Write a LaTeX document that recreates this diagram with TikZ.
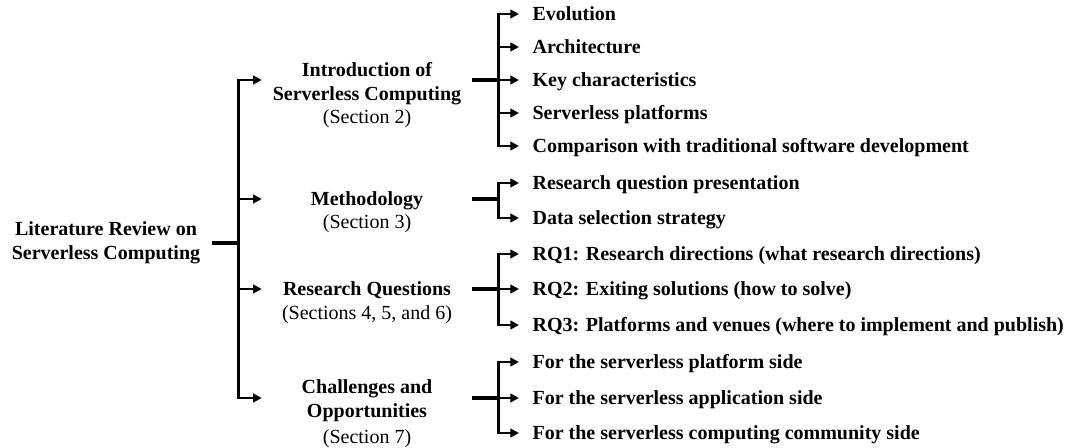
\documentclass[tikz,border=0pt]{standalone}
\usepackage{fontspec}
\setmainfont{Liberation Serif}
\usetikzlibrary{arrows.meta, positioning, calc}
\newcommand{\diagfont}{\fontsize{15}{18}\selectfont}
\tikzstyle{root} = [minimum width=159pt, align=center, inner sep=0pt, font=\diagfont\bfseries]
\tikzstyle{topic} = [minimum width=157.5pt, align=center, inner sep=0pt, font=\diagfont\bfseries]
\tikzstyle{topicline} = [topic, text height=1.05em, text depth=0em]
\tikzstyle{secnote} = [inner sep=0pt, text height=1.05em, text depth=0em, font=\diagfont]
\tikzstyle{leaf} = [anchor=west, inner xsep=10pt, inner ysep=0pt, text height=1.05em, text depth=0em, font=\diagfont\bfseries]
\tikzstyle{stub} = [line width=3pt]
\tikzstyle{branch} = [line width=2pt, -{Triangle[length=6.5pt,width=6.5pt]}]

\begin{document}
\begin{tikzpicture}[x=0.75pt, y=-0.75pt]
			\useasboundingbox (0,0) rectangle (1072,448);

			\node (root) [root] at (106,243) {Literature Review on\\Serverless Computing};

			\node (intro) [topic] at (367,84) {Introduction of\\Serverless Computing};
			\node (introsec) [secnote] at (367,117) {(Section 2)};
			\node (meth) [topicline] at (367,199) {Methodology};
			\node (methsec) [secnote] at (367,222) {(Section 3)};
			\node (rq) [topicline] at (367,289) {Research Questions};
			\node (rqsec) [secnote] at (367,313) {(Sections 4, 5, and 6)};
			\node (chal) [topic] at (367,401) {Challenges and\\Opportunities};
			\node (chalsec) [secnote] at (367,437) {(Section 7)};

			\node (evo) [leaf] at (519,14) {Evolution};
			\node (arch) [leaf] at (519,47) {Architecture};
			\node (keyc) [leaf] at (519,80) {Key characteristics};
			\node (plat) [leaf] at (519,113) {Serverless platforms};
			\node (comp) [leaf] at (519,146) {Comparison with traditional software development};

			\node (rqpres) [leaf] at (519,183) {Research question presentation};
			\node (datasel) [leaf] at (519,218) {Data selection strategy};

			\node (rqone) [leaf] at (519,254) {RQ1: Research directions (what research directions)};
			\node (rqtwo) [leaf] at (519,289) {RQ2: Exiting solutions (how to solve)};
			\node (rqthree) [leaf] at (519,325) {RQ3: Platforms and venues (where to implement and publish)};

			\node (platside) [leaf] at (519,362) {For the serverless platform side};
			\node (appside) [leaf] at (519,398) {For the serverless application side};
			\node (commside) [leaf] at (519,433) {For the serverless computing community side};

			% main trunk
			\coordinate (trunk) at ([xshift=19.5pt]root.east);
			\draw[stub] (root.east) -- (trunk);
			\draw[branch] (trunk) |- ([yshift=3pt]intro.west);
			\draw[branch] (trunk) |- (meth);
			\draw[branch] (trunk) |- (rq);
			\draw[branch] (trunk) |- ([yshift=2.25pt]chal.west);

			% sub brackets
			\coordinate (introj) at ([xshift=19.5pt,yshift=3pt]intro.east);
			\draw[stub] ([yshift=3pt]intro.east) -- (introj);
			\draw[branch] (introj) |- (evo);
			\draw[branch] (introj) |- (arch);
			\draw[branch] (introj) |- (keyc);
			\draw[branch] (introj) |- (plat);
			\draw[branch] (introj) |- (comp);

			\coordinate (methj) at ([xshift=19.5pt]meth.east);
			\draw[stub] (meth.east) -- (methj);
			\draw[branch] (methj) |- (rqpres);
			\draw[branch] (methj) |- (datasel);

			\coordinate (rqj) at ([xshift=19.5pt]rq.east);
			\draw[stub] (rq.east) -- (rqj);
			\draw[branch] (rqj) |- (rqone);
			\draw[branch] (rqj) |- (rqtwo);
			\draw[branch] (rqj) |- (rqthree);

			\coordinate (chalj) at ([xshift=19.5pt,yshift=2.25pt]chal.east);
			\draw[stub] ([yshift=2.25pt]chal.east) -- (chalj);
			\draw[branch] (chalj) |- (platside);
			\draw[branch] (chalj) |- (appside);
			\draw[branch] (chalj) |- (commside);
\end{tikzpicture}
\end{document}
